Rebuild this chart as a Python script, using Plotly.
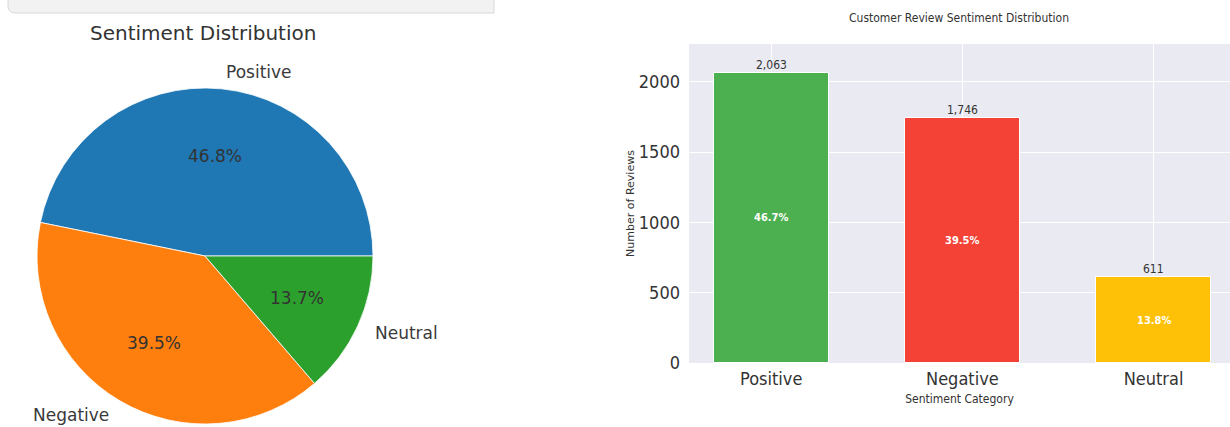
import math
import plotly.graph_objects as go

W, H = 1230, 427

# ---- data ----
pie_labels = ["Positive", "Negative", "Neutral"]
pie_values = [46.8, 39.5, 13.7]
pie_colors = ["#1f77b4", "#ff7f0e", "#2ca02c"]

bar_categories = ["Positive", "Negative", "Neutral"]
bar_counts = [2063, 1746, 611]
bar_colors = ["#4CAF50", "#F44336", "#FFC107"]

y_ticks = [0, 500, 1000, 1500, 2000]

# ---- layout helpers (pixel -> paper) ----
def px(x):
    return x / W

def py(y):
    return (H - y) / H

pie_cx, pie_cy, pie_r = 205, 256, 168
total = sum(pie_values)

fig = go.Figure()

# matplotlib-style: first wedge starts at 3 o'clock, going counterclockwise
first_rot = 90 - 360 * pie_values[0] / total
fig.add_trace(go.Pie(
    labels=pie_labels, values=pie_values, sort=False,
    direction="counterclockwise", rotation=first_rot,
    marker=dict(colors=pie_colors, line=dict(color="white", width=0.8)),
    textinfo="none", hoverinfo="label+percent", showlegend=False,
    domain=dict(x=[px(pie_cx - pie_r), px(pie_cx + pie_r)],
                y=[py(pie_cy + pie_r), py(pie_cy - pie_r)]),
))

annotations = []
start = 0.0
for lab, v in zip(pie_labels, pie_values):
    ang = start + 360 * v / total
    mid = math.radians((start + ang) / 2)
    start = ang
    lx = pie_cx + 1.1 * pie_r * math.cos(mid)
    ly = pie_cy - 1.1 * pie_r * math.sin(mid)
    annotations.append(dict(
        x=px(lx), y=py(ly), xref="paper", yref="paper", text=lab, showarrow=False,
        xanchor="left" if math.cos(mid) > 0 else "right", yanchor="middle",
        font=dict(family="DejaVu Sans", size=17, color="#3a3a3a")))
    tx = pie_cx + 0.6 * pie_r * math.cos(mid)
    ty = pie_cy - 0.6 * pie_r * math.sin(mid)
    annotations.append(dict(
        x=px(tx), y=py(ty), xref="paper", yref="paper", text=f"{v:.1f}%", showarrow=False,
        xanchor="center", yanchor="middle",
        font=dict(family="DejaVu Sans", size=17, color="#333333")))

annotations.append(dict(
    x=px(203), y=py(33), xref="paper", yref="paper", text="Sentiment Distribution",
    showarrow=False, xanchor="center", yanchor="middle",
    font=dict(family="DejaVu Sans", size=20, color="#333333")))

# ---- bar chart ----
cond = "DejaVu Sans Condensed, Liberation Sans Narrow, DejaVu Sans"
fig.add_trace(go.Bar(
    x=bar_categories, y=bar_counts, width=0.6,
    marker=dict(color=bar_colors, line=dict(color="white", width=1)),
    showlegend=False, xaxis="x", yaxis="y",
))

bar_total = sum(bar_counts)
for c, n in zip(bar_categories, bar_counts):
    annotations.append(dict(
        x=c, y=n, xref="x", yref="y", text=f"{n:,}", showarrow=False,
        xanchor="center", yanchor="bottom", yshift=-1,
        font=dict(family=cond, size=12, color="#333333")))
    annotations.append(dict(
        x=c, y=n / 2, xref="x", yref="y", text=f"<b>{100 * n / bar_total:.1f}%</b>",
        showarrow=False, xanchor="center", yanchor="middle",
        font=dict(family=cond, size=11, color="white")))

annotations.append(dict(
    x=px(959), y=py(18), xref="paper", yref="paper",
    text="Customer Review Sentiment Distribution", showarrow=False,
    xanchor="center", yanchor="middle",
    font=dict(family=cond, size=12, color="#333333")))

shapes = [dict(
    type="path", xref="paper", yref="paper",
    path=(f"M {px(8)} {py(-5)} L {px(8)} {py(6)} Q {px(8)} {py(13)} {px(16)} {py(13)} "
          f"L {px(494)} {py(13)} L {px(494)} {py(-5)} Z"),
    fillcolor="#f2f2f2", line=dict(color="#d8d8d8", width=1), layer="below")]

fig.update_layout(
    width=W, height=H, margin=dict(l=0, r=0, t=0, b=0, autoexpand=False),
    paper_bgcolor="white", plot_bgcolor="#EAEAF2",
    annotations=annotations, shapes=shapes, bargap=0,
    xaxis=dict(domain=[px(689), 1.0], range=[-0.43, 2.40], type="category",
               automargin=False,
               showgrid=True, gridcolor="white", gridwidth=1, zeroline=False,
               showline=False, ticks="", ticklabelstandoff=3,
               tickfont=dict(family=cond, size=18, color="#333333"),
               title=dict(text="Sentiment Category", standoff=6,
                          font=dict(family=cond, size=12, color="#333333"))),
    yaxis=dict(domain=[py(363), py(44)], range=[0, 2269], tickvals=y_ticks,
               automargin=False,
               showgrid=True, gridcolor="white", gridwidth=1, zeroline=False,
               showline=False, ticks="", ticklabelstandoff=8,
               tickfont=dict(family=cond, size=18, color="#333333"),
               title=dict(text="Number of Reviews", standoff=1,
                          font=dict(family="DejaVu Sans", size=11, color="#333333"))),
)

fig.write_html("out.html")
